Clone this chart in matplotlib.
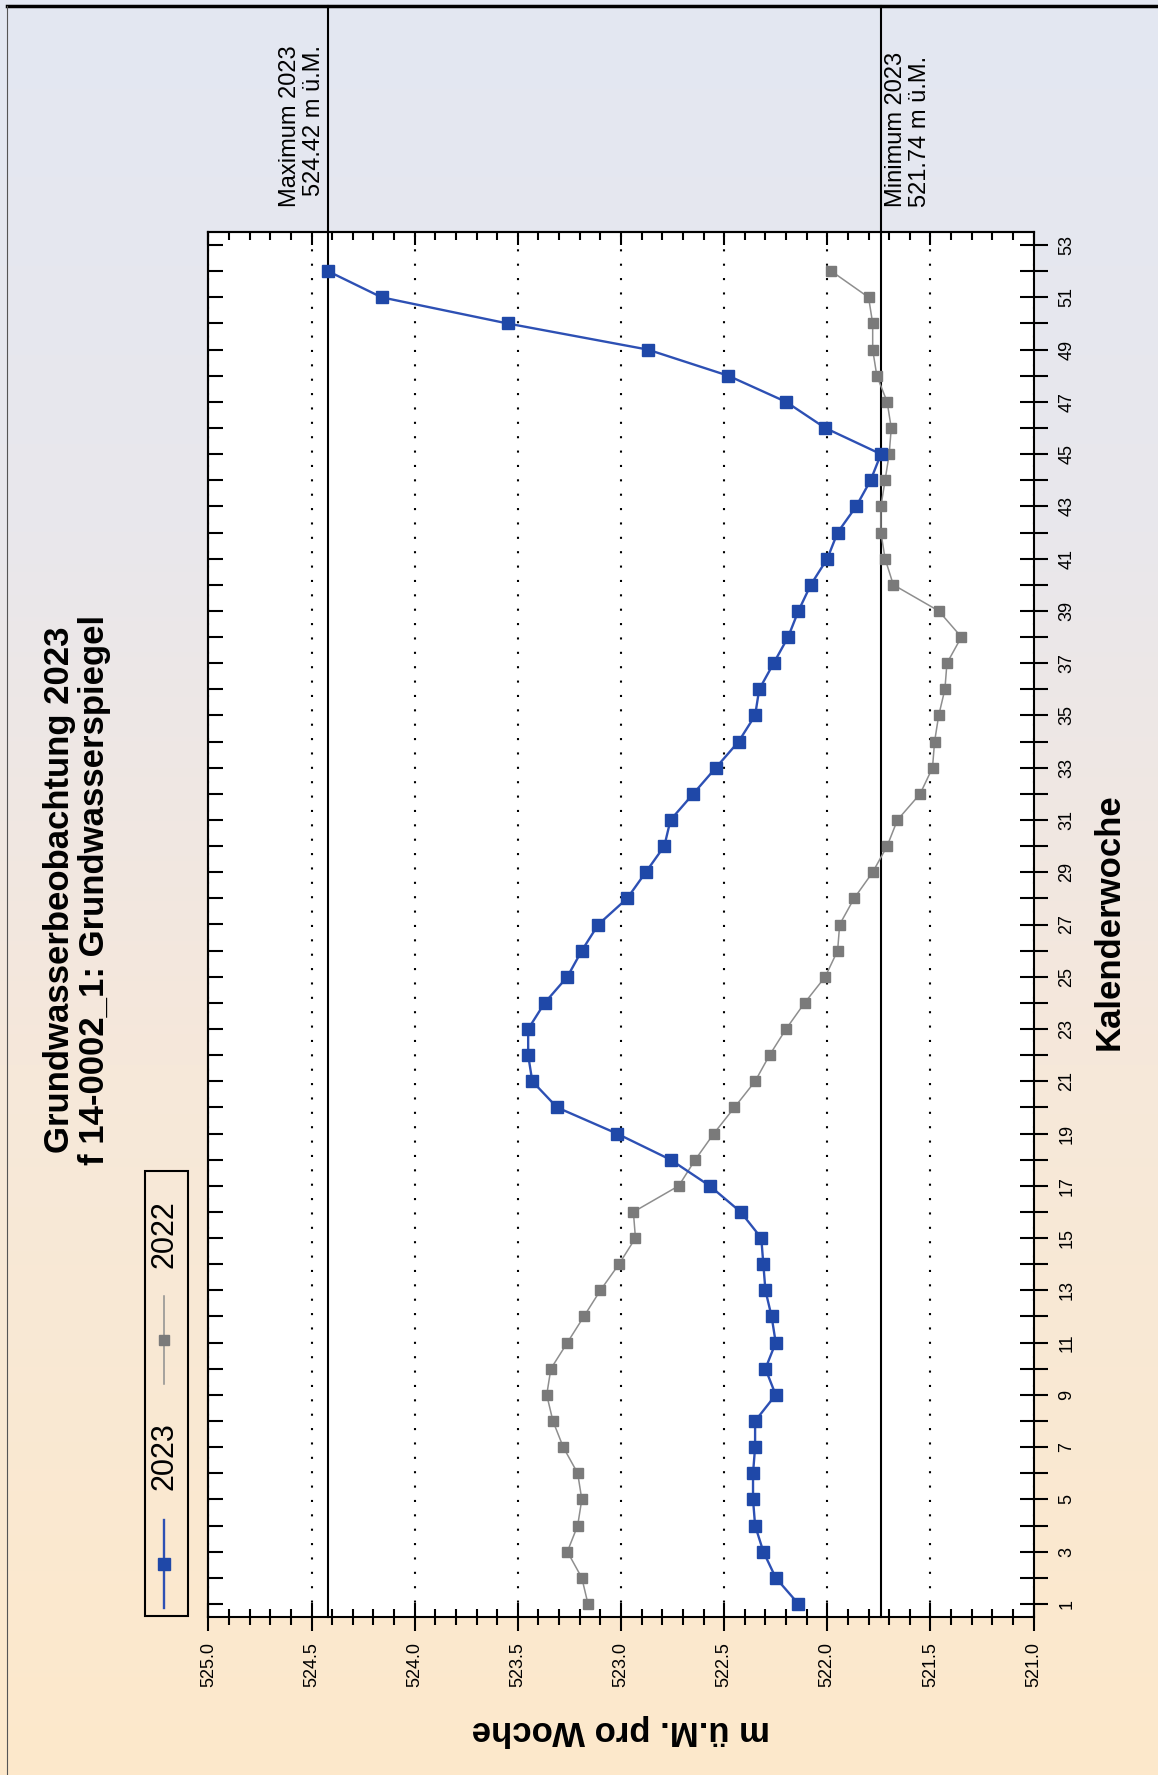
import numpy as np
import matplotlib
matplotlib.use("Agg")
import matplotlib.pyplot as plt
import matplotlib.transforms as mtransforms
from matplotlib.lines import Line2D
from matplotlib.patches import Rectangle
from matplotlib.ticker import MultipleLocator, FixedLocator, FormatStrFormatter

# DATA - - - - - - - - - - - - - - - - - - - - - - - - - - - - - - - - - - -
weeks = list(range(1, 53))  # Kalenderwoche 1..52
level_2023 = [522.14, 522.25, 522.31, 522.35, 522.36, 522.36, 522.35, 522.35, 522.25, 522.30,
              522.25, 522.27, 522.30, 522.31, 522.32, 522.42, 522.57, 522.76, 523.02, 523.31,
              523.43, 523.45, 523.45, 523.37, 523.26, 523.19, 523.11, 522.97, 522.88, 522.79,
              522.76, 522.65, 522.54, 522.43, 522.35, 522.33, 522.26, 522.19, 522.14, 522.08,
              522.00, 521.95, 521.86, 521.79, 521.74, 522.01, 522.20, 522.48, 522.87, 523.55,
              524.16, 524.42]
level_2022 = [523.16, 523.19, 523.26, 523.21, 523.19, 523.21, 523.28, 523.33, 523.36, 523.34,
              523.26, 523.18, 523.10, 523.01, 522.93, 522.94, 522.72, 522.64, 522.55, 522.45,
              522.35, 522.28, 522.20, 522.11, 522.01, 521.95, 521.94, 521.87, 521.78, 521.71,
              521.66, 521.55, 521.49, 521.48, 521.46, 521.43, 521.42, 521.35, 521.46, 521.68,
              521.72, 521.74, 521.74, 521.72, 521.70, 521.69, 521.71, 521.76, 521.78, 521.78,
              521.80, 521.98]
series_labels = ["2023", "2022"]
max_2023 = 524.42
min_2023 = 521.74
title_lines = ["Grundwasserbeobachtung 2023", "f 14-0002_1: Grundwasserspiegel"]
week_label = "Kalenderwoche"
level_label = "m ü.M. pro Woche"

# STYLE - - - - - - - - - - - - - - - - - - - - - - - - - - - - - - - - - - -
blue_line, blue_mark = "#2D50B4", "#1F48A8"
gray_line, gray_mark = "#8E8E8E", "#7A7A7A"
plt.rcParams["font.family"] = ["Liberation Sans", "DejaVu Sans"]

W, H = 1158, 1775


def fx(px):
    return px / W


def fy(py):
    return 1 - py / H


fig = plt.figure(figsize=(W / 100, H / 100), dpi=100)

# background gradient (blue-grey at top -> peach at bottom)
bg = fig.add_axes([0, 0, 1, 1], zorder=-10)
stops = [0.0, 0.3, 0.6, 1.0]
cols = np.array([[227, 231, 242], [233, 231, 236], [246, 232, 218], [253, 232, 203]]) / 255
t = np.linspace(0, 1, 400)
grad = np.stack([np.interp(t, stops, cols[:, c]) for c in range(3)], axis=1)
bg.imshow(grad[:, None, :], aspect="auto", extent=[0, 1, 0, 1])
bg.axis("off")
# frame lines at top and left edge
fig.add_artist(Line2D([fx(7), 1], [fy(6), fy(6)], transform=fig.transFigure, color="black", lw=2.5))
fig.add_artist(Line2D([fx(7.5), fx(7.5)], [0, fy(6)], transform=fig.transFigure, color="#555555", lw=0.8))

# main axes (chart is drawn turned: weeks run upwards, levels run right-to-left)
ax_left, ax_right, ax_top, ax_bottom = 208.4, 1033.6, 232, 1617
ax = fig.add_axes([fx(ax_left), fy(ax_bottom), (ax_right - ax_left) / W, (ax_bottom - ax_top) / H])
ax.set_facecolor("white")
ax.set_xlim(525, 521)
ax.set_ylim(0.5, 53.5)

ax.plot(level_2022, weeks, color=gray_line, lw=1.1, marker="s", ms=7,
        mfc=gray_mark, mec=gray_mark, zorder=3)
ax.plot(level_2023, weeks, color=blue_line, lw=1.7, marker="s", ms=8,
        mfc=blue_mark, mec=blue_mark, zorder=4)

# dotted grid at the major level ticks
ax.xaxis.set_major_locator(MultipleLocator(0.5))
ax.xaxis.set_minor_locator(MultipleLocator(0.1))
ax.xaxis.set_major_formatter(FormatStrFormatter("%.1f"))
ax.grid(True, axis="x", which="major", color="black", linestyle=(0, (1, 5.9)), linewidth=1.5)
ax.set_axisbelow(True)

ax.tick_params(axis="x", which="major", direction="inout", length=20, width=1.5,
               top=False, bottom=True, pad=8, labelsize=13, labelrotation=90)
ax.tick_params(axis="x", which="minor", direction="inout", length=11, width=1.5, top=False)

ax.yaxis.tick_right()
ax.yaxis.set_major_locator(FixedLocator(range(1, 54, 2)))
ax.yaxis.set_minor_locator(FixedLocator(range(2, 53, 2)))
ax.tick_params(axis="y", which="both", direction="inout", length=20, width=1.5,
               left=False, right=True, pad=8, labelsize=13, labelrotation=90)
for lab in ax.get_yticklabels():
    lab.set_va("center")

for sp in ax.spines.values():
    sp.set_linewidth(1.5)

# mirrored inner ticks on top and left
secx = ax.secondary_xaxis("top")
secx.xaxis.set_major_locator(MultipleLocator(0.5))
secx.xaxis.set_minor_locator(MultipleLocator(0.1))
secx.tick_params(which="major", direction="in", length=9.4, width=1.5, labeltop=False)
secx.tick_params(which="minor", direction="in", length=5.8, width=1.5)
secx.spines["top"].set_linewidth(1.5)

secy = ax.secondary_yaxis("left")
secy.yaxis.set_major_locator(MultipleLocator(1))
secy.tick_params(which="major", direction="in", length=11, width=1.5, labelleft=False)
secy.tick_params(which="minor", left=False)
secy.spines["left"].set_linewidth(1.5)

# maximum / minimum reference lines reaching to the top frame line
trans = mtransforms.blended_transform_factory(ax.transData, ax.transAxes)
ytop = 1 + (ax_top - 6) / (ax_bottom - ax_top)
for v in (max_2023, min_2023):
    ax.plot([v, v], [0, ytop], transform=trans, color="black", lw=1.5, clip_on=False, zorder=2)

ax.annotate(f"Maximum 2023\n{max_2023:.2f} m ü.M.", xy=(max_2023, 1),
            xycoords=("data", "axes fraction"), xytext=(-2, 18), textcoords="offset points",
            rotation=90, ha="right", va="bottom", fontsize=17,
            linespacing=1.12, annotation_clip=False)
ax.annotate(f"Minimum 2023\n{min_2023:.2f} m ü.M.", xy=(min_2023, 1),
            xycoords=("data", "axes fraction"), xytext=(3, 18), textcoords="offset points",
            rotation=90, ha="left", va="bottom", fontsize=17,
            linespacing=1.12, annotation_clip=False)

# titles and axis labels (turned like the chart)
fig.text(fx(77), fy(890), "\n".join(title_lines), rotation=90, ha="center", va="center",
         fontsize=25, fontweight="bold", linespacing=1.05)
fig.text(fx(1109), fy(922), week_label, rotation=90, ha="center", va="center",
         fontsize=25, fontweight="bold")
fig.text(fx(621), fy(1730), level_label, rotation=180, ha="center", va="center",
         fontsize=25, fontweight="bold")

# legend, drawn by hand because it is turned as well
fig.add_artist(Rectangle((fx(145), fy(1616)), (188 - 145) / W, (1616 - 1171) / H,
                         transform=fig.transFigure, fill=False, ec="black", lw=1.5))
leg_entries = [(series_labels[0], blue_line, blue_mark, 1.7, 9, 1608, 1520, 1456),
               (series_labels[1], gray_line, gray_mark, 1.1, 7, 1384, 1296, 1234)]
for name, lc, mc, lw, ms, y0, y1, ty in leg_entries:
    fig.add_artist(Line2D([fx(164.5)] * 2, [fy(y0), fy(y1)], transform=fig.transFigure,
                          color=lc, lw=lw))
    fig.add_artist(Line2D([fx(164.5)], [fy((y0 + y1) / 2)], transform=fig.transFigure,
                          marker="s", ms=ms, mfc=mc, mec=mc, lw=0))
    fig.text(fx(164), fy(ty), name, rotation=90, ha="center", va="center", fontsize=22)

fig.savefig("out.png", dpi=100)
